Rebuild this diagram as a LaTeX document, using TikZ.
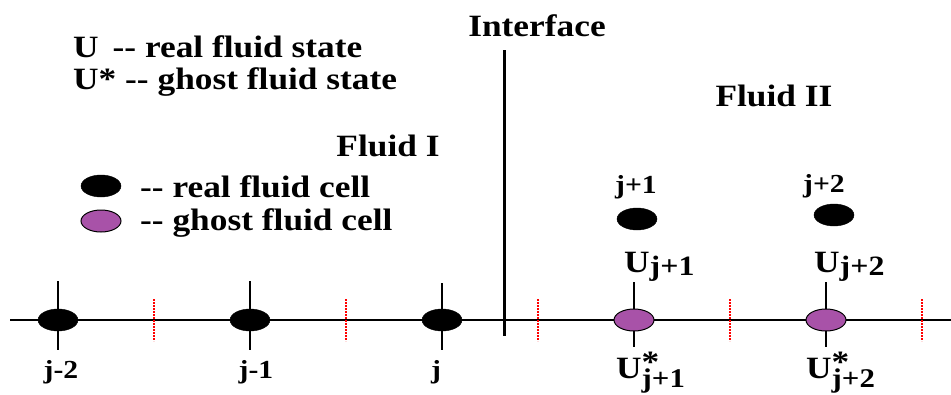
\documentclass[tikz,border=0pt]{standalone}
\usepackage{fontspec}
\setmainfont[FakeStretch=1.14]{Liberation Serif}
\usetikzlibrary{shapes.geometric}
\definecolor{ghostPurple}{RGB}{168,82,168}
\begin{document}
\begin{tikzpicture}[x=1pt, y=-1pt,
    gfmText/.style={font=\fontsize{31}{33}\selectfont\bfseries, inner sep=0pt},
    gfmIndex/.style={font=\fontsize{26}{28}\selectfont\bfseries, inner sep=0pt},
    gfmReal/.style={draw, ellipse, fill=black, minimum width=40pt, minimum height=22pt, inner sep=0pt},
    gfmGhost/.style={draw, ellipse, fill=ghostPurple, line width=1pt, minimum width=40pt, minimum height=22pt, inner sep=0pt},
    gfmFace/.style={draw=red, line width=2.5pt, dash pattern=on 2pt off 1pt},
    gfmStem/.style={line width=2pt}]

    \useasboundingbox (0,0) rectangle (951,394);

    \coordinate (axisL) at (10,320);
    \coordinate (axisR) at (951,320);
    \draw[line width=2.5pt] (axisL) -- (axisR);

    \foreach \fx in {154,346,538,730,922}
        \draw[gfmFace] (\fx,299) -- (\fx,341);

    \draw[gfmStem] (58,281) -- (58,350);
    \draw[gfmStem] (250,281) -- (250,350);
    \draw[gfmStem] (442,283) -- (442,350);
    \draw[gfmStem] (634,282) -- (634,347);
    \draw[gfmStem] (826,282) -- (826,347);

    \node[gfmReal] (cellA) at (58,320) {};
    \node[gfmReal] (cellB) at (250,320) {};
    \node[gfmReal] (cellC) at (442,320) {};
    \node[gfmGhost] (ghostA) at (634,320) {};
    \node[gfmGhost] (ghostB) at (826,320) {};
    \node[gfmReal] (realA) at (637,219) {};
    \node[gfmReal] (realB) at (834,215) {};

    \coordinate (faceTop) at (504,50);
    \coordinate (faceBot) at (504,336);
    \draw[line width=3pt] (faceTop) -- (faceBot);
    \node[gfmText, anchor=base] (iface) at (537,36) {Interface};

    \node[gfmText, anchor=base west] (keyU) at (73,57) {U\hspace{0.45em}-{}- real fluid state};
    \node[gfmText, anchor=base west] (keyUs) at (73,89) {U* -{}- ghost fluid state};
    \node[gfmText, anchor=base] (fluidTwo) at (774,106) {Fluid II};
    \node[gfmText, anchor=base] (fluidOne) at (388,156) {Fluid I};

    \node[gfmReal] (keyReal) at (101,186) {};
    \node[gfmGhost] (keyGhost) at (101,221) {};
    \node[gfmText, anchor=base west] (keyRealTxt) at (140,197) {-{}- real fluid cell};
    \node[gfmText, anchor=base west] (keyGhostTxt) at (140,230) {-{}- ghost fluid cell};

    \node[gfmIndex, anchor=base] (lblA) at (61,378) {j-2};
    \node[gfmIndex, anchor=base] (lblB) at (256,378) {j-1};
    \node[gfmIndex, anchor=base] (lblC) at (436,378) {j};
    \node[gfmIndex, anchor=base] (lblD) at (636,193) {j+1};
    \node[gfmIndex, anchor=base] (lblE) at (824,192) {j+2};

    \node[gfmText, anchor=base west] (stateA) at (624,272) {U\raisebox{-3pt}{\fontsize{28}{30}\selectfont j+1}};
    \node[gfmText, anchor=base west] (stateB) at (814,272) {U\raisebox{-3pt}{\fontsize{28}{30}\selectfont j+2}};
    \node[gfmText, anchor=base west] (ghostStA) at (616,378) {U\makebox[0pt][l]{\raisebox{6pt}{*}}\raisebox{-9pt}{\fontsize{27}{29}\selectfont j+1}};
    \node[gfmText, anchor=base west] (ghostStB) at (806,378) {U\makebox[0pt][l]{\raisebox{6pt}{*}}\raisebox{-9pt}{\fontsize{27}{29}\selectfont j+2}};
\end{tikzpicture}
\end{document}
